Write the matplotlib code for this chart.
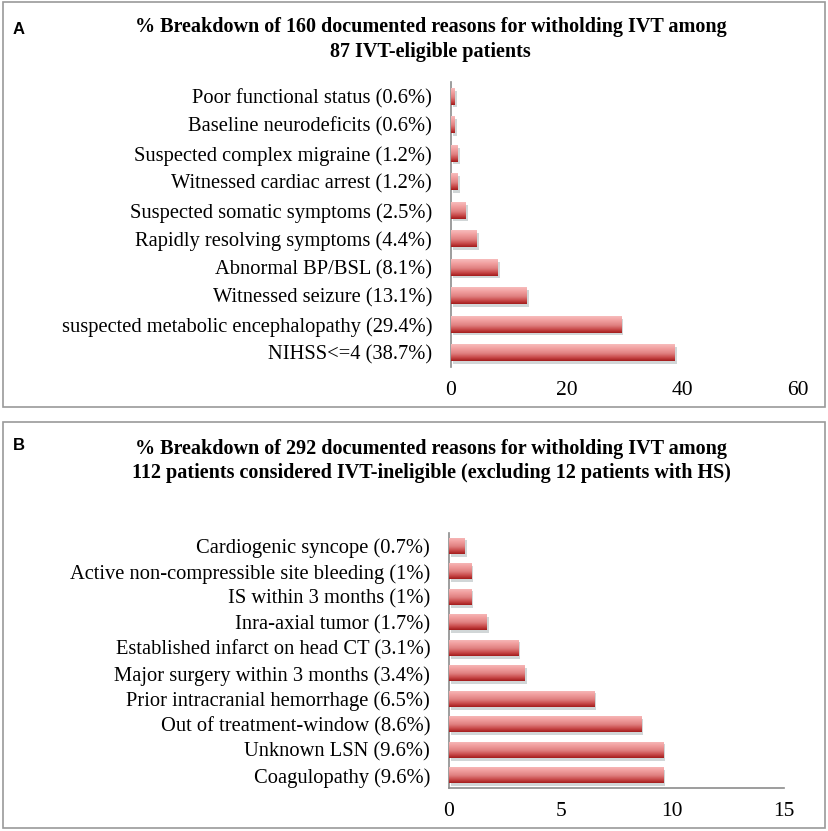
import matplotlib
matplotlib.use("Agg")
import matplotlib.pyplot as plt
import numpy as np
from matplotlib.colors import LinearSegmentedColormap
from matplotlib.patches import Rectangle
import matplotlib.patheffects as pe

# ---- data ----
labels_a = ["Poor functional status (0.6%)", "Baseline neurodeficits (0.6%)",
            "Suspected complex migraine (1.2%)", "Witnessed cardiac arrest (1.2%)",
            "Suspected somatic symptoms (2.5%)", "Rapidly resolving symptoms (4.4%)",
            "Abnormal BP/BSL (8.1%)", "Witnessed seizure (13.1%)",
            "suspected metabolic encephalopathy (29.4%)", "NIHSS<=4 (38.7%)"]
values_a = [0.6, 0.6, 1.2, 1.2, 2.5, 4.4, 8.1, 13.1, 29.4, 38.7]
ticks_a = [0, 20, 40, 60]
title_a = ["% Breakdown of 160 documented reasons for witholding IVT among",
           "87 IVT-eligible patients"]

labels_b = ["Cardiogenic syncope (0.7%)", "Active non-compressible site bleeding (1%)",
            "IS within 3 months (1%)", "Inra-axial tumor (1.7%)",
            "Established infarct on head CT (3.1%)", "Major surgery within 3 months (3.4%)",
            "Prior intracranial hemorrhage (6.5%)", "Out of treatment-window (8.6%)",
            "Unknown LSN (9.6%)", "Coagulopathy (9.6%)"]
values_b = [0.7, 1.0, 1.0, 1.7, 3.1, 3.4, 6.5, 8.6, 9.6, 9.6]
ticks_b = [0, 5, 10, 15]
title_b = ["% Breakdown of 292 documented reasons for witholding IVT among",
           "112 patients considered IVT-ineligible (excluding 12 patients with HS)"]

W, H = 829, 831
fig = plt.figure(figsize=(W / 100, H / 100), dpi=100)
fig.patch.set_facecolor("white")

serif = ["Liberation Serif", "DejaVu Serif"]

cmap = LinearSegmentedColormap.from_list(
    "bar", [(0.0, "#f7bcbc"), (0.25, "#f1a0a0"), (0.55, "#e08080"),
            (0.8, "#c84848"), (1.0, "#a31c1c")])
grad = cmap(np.linspace(0, 1, 64))[:, None, :3]


def px_rect(x0, y0, x1, y1):
    return [x0 / W, 1 - y1 / H, (x1 - x0) / W, (y1 - y0) / H]


def panel(ax_rect, labels, values, ticks, bar_h, bottom_spine):
    ax = fig.add_axes(px_rect(*ax_rect))
    y = np.arange(len(labels))
    bars = ax.barh(y, values, height=bar_h, color="none", edgecolor="none")
    for b in bars:
        b.set_path_effects([pe.SimplePatchShadow(offset=(1.5, -2), shadow_rgbFace="#9aa4a8", alpha=0.45),
                            pe.Normal()])
        x0, yb = b.get_x(), b.get_y()
        w, h = b.get_width(), b.get_height()
        im = ax.imshow(grad, extent=(x0, x0 + w, yb + h, yb), origin="upper",
                       aspect="auto", interpolation="bilinear", zorder=3)
        im.set_clip_path(b)
    ax.set_xlim(ticks[0], ticks[-1])
    ax.set_ylim(len(labels) - 0.5, -0.5)
    ax.set_yticks(y)
    ax.set_yticklabels(labels, family=serif, fontsize=14.8)
    ax.set_xticks(ticks)
    ax.set_xticklabels([str(t) for t in ticks], family=serif, fontsize=15.5)
    ax.tick_params(length=0, pad=13.5, axis="y")
    ax.tick_params(length=0, pad=10, axis="x")
    for s in ["top", "right"]:
        ax.spines[s].set_visible(False)
    ax.spines["left"].set_color("#8c8c8c")
    ax.spines["left"].set_linewidth(1.2)
    if bottom_spine:
        ax.spines["bottom"].set_color("#8c8c8c")
        ax.spines["bottom"].set_linewidth(1.2)
    else:
        ax.spines["bottom"].set_visible(False)
    return ax


# boxes
for (x0, y0, x1, y1) in [(3, 2, 825, 407), (3, 422, 825, 828)]:
    r = px_rect(x0, y0, x1, y1)
    fig.add_artist(Rectangle((r[0], r[1]), r[2], r[3], transform=fig.transFigure,
                             fill=False, edgecolor="#9a9a9a", linewidth=1.2))

panel((451, 82, 798, 367), labels_a, values_a, ticks_a, 0.58, False)
panel((449, 533, 784, 788), labels_b, values_b, ticks_b, 0.63, True)

# title size: "% Breakdown of 160 documen" spans about x=135..400 px in the reference
renderer = fig.canvas.get_renderer()
probe = fig.text(0, 0, "% Breakdown of 160 documen", family=serif, fontweight="bold", fontsize=14)
pw = probe.get_window_extent(renderer).width
probe.remove()
tsize = 14 * 265.0 / pw
tsize = min(max(tsize, 13.0), 15.5)

for title, ys in [(title_a, (27, 52)), (title_b, (449, 473))]:
    t1 = fig.text(135 / W, 1 - ys[0] / H, title[0], ha="left", va="center", family=serif,
                  fontweight="bold", fontsize=tsize)
    w1 = t1.get_window_extent(renderer).width
    cx = 135 + w1 / 2
    fig.text(cx / W, 1 - ys[1] / H, title[1], ha="center", va="center", family=serif,
             fontweight="bold", fontsize=tsize)

fig.text(13 / W, 1 - 30 / H, "A", ha="left", va="center", family="Liberation Sans",
         fontweight="bold", fontsize=12)
fig.text(13 / W, 1 - 446 / H, "B", ha="left", va="center", family="Liberation Sans",
         fontweight="bold", fontsize=12)

fig.savefig("out.png", dpi=100)
